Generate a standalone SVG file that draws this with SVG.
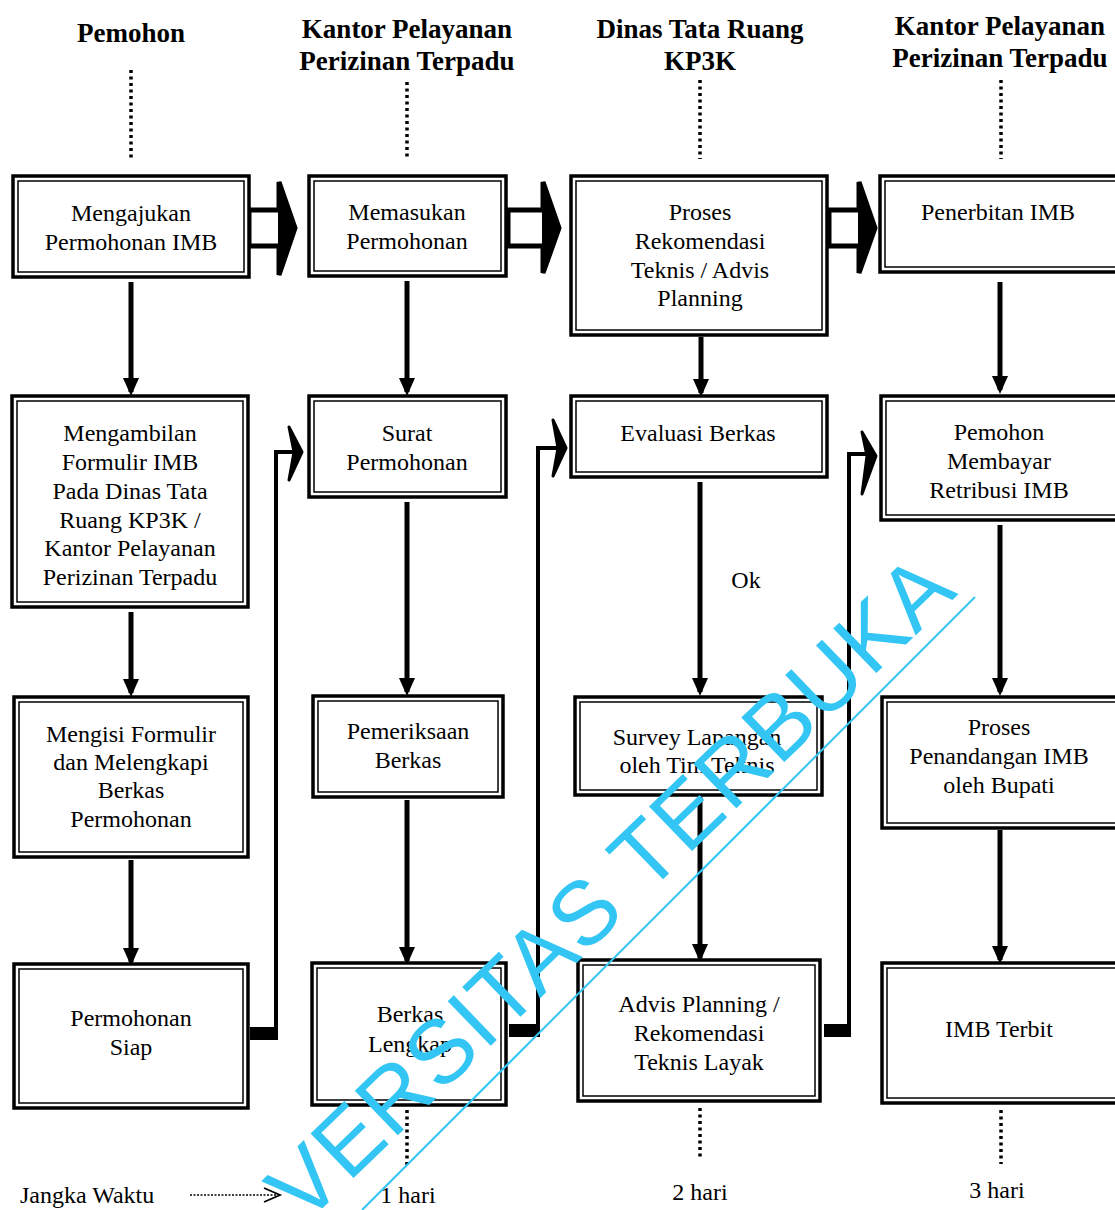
<svg xmlns="http://www.w3.org/2000/svg" width="1115" height="1210" viewBox="0 0 1115 1210">
<style>
.bg{fill:#fff}
.ob{fill:#fff;stroke:#000;stroke-width:3.5}
.ib{fill:none;stroke:#000;stroke-width:1.5}
.t{font-family:"Liberation Serif","Times New Roman",serif;font-size:24px;fill:#000;text-anchor:middle}
.h{font-family:"Liberation Serif","Times New Roman",serif;font-size:27px;font-weight:bold;fill:#000;text-anchor:middle}
.dot{stroke:#000;stroke-width:3.5;stroke-dasharray:3 3.5;fill:none}
.ln{stroke:#000;stroke-width:5;fill:none}
.blk{fill:#fff;stroke:#000;stroke-width:5;stroke-linejoin:miter}
.hd{fill:#000;stroke:#000;stroke-width:2;stroke-linejoin:miter}
.wm{font-family:"Liberation Sans",Arial,sans-serif;font-size:90px;fill:#33c6f4}
</style>
<defs>
<marker id="ah" markerUnits="userSpaceOnUse" markerWidth="18" markerHeight="18" viewBox="0 0 18 18" refX="14" refY="9" orient="auto">
<path d="M0,1 L18,9 L0,17 Z" fill="#000"/>
</marker>
</defs>
<rect class="bg" x="0" y="0" width="1115" height="1210"/>

<g id="headers">
<text class="h" x="131" y="42">Pemohon</text>
<text class="h" x="407" y="38">Kantor Pelayanan</text>
<text class="h" x="407" y="70">Perizinan Terpadu</text>
<text class="h" x="700" y="38">Dinas Tata Ruang</text>
<text class="h" x="700" y="70">KP3K</text>
<text class="h" x="1000" y="35">Kantor Pelayanan</text>
<text class="h" x="1000" y="67">Perizinan Terpadu</text>
</g>

<g id="connectors">
<line class="dot" x1="131" y1="70" x2="131" y2="159"/>
<line class="dot" x1="407" y1="82" x2="407" y2="159"/>
<line class="dot" x1="700" y1="80" x2="700" y2="159"/>
<line class="dot" x1="1001" y1="80" x2="1001" y2="159"/>
<line class="dot" x1="407" y1="1110" x2="407" y2="1166"/>
<line class="dot" x1="700" y1="1108" x2="700" y2="1160"/>
<line class="dot" x1="1001" y1="1110" x2="1001" y2="1164"/>
<path class="blk" d="M249,210 L279,210 L279,182 L295,228 L279,275 L279,246 L249,246 Z"/>
<path class="hd" d="M279,182 L295,228 L279,275 Z"/>
<path class="blk" d="M508,210 L543,210 L543,182 L559,228 L543,273 L543,246 L508,246 Z"/>
<path class="hd" d="M543,182 L559,228 L543,273 Z"/>
<path class="blk" d="M829,210 L859,210 L859,182 L875,228 L859,273 L859,246 L829,246 Z"/>
<path class="hd" d="M859,182 L875,228 L859,273 Z"/>
<line class="ln" x1="131" y1="282" x2="131" y2="392" marker-end="url(#ah)"/>
<line class="ln" x1="131" y1="612" x2="131" y2="693" marker-end="url(#ah)"/>
<line class="ln" x1="131" y1="860" x2="131" y2="962" marker-end="url(#ah)"/>
<line class="ln" x1="407" y1="281" x2="407" y2="392" marker-end="url(#ah)"/>
<line class="ln" x1="407" y1="502" x2="407" y2="692" marker-end="url(#ah)"/>
<line class="ln" x1="407" y1="800" x2="407" y2="961" marker-end="url(#ah)"/>
<line class="ln" x1="701" y1="337" x2="701" y2="393" marker-end="url(#ah)"/>
<line class="ln" x1="700" y1="482" x2="700" y2="692" marker-end="url(#ah)"/>
<line class="ln" x1="700" y1="797" x2="700" y2="958" marker-end="url(#ah)"/>
<line class="ln" x1="1000" y1="282" x2="1000" y2="390" marker-end="url(#ah)"/>
<line class="ln" x1="1000" y1="525" x2="1000" y2="692" marker-end="url(#ah)"/>
<line class="ln" x1="1000" y1="830" x2="1000" y2="960" marker-end="url(#ah)"/>
<rect x="250" y="1027" width="28" height="13" fill="#000"/>
<path class="ln" style="stroke-width:4" d="M276,1040 L276,452 L293,452"/>
<path d="M289,427 L302,452 L289,480 L294,452 Z" fill="#000" stroke="#000" stroke-width="3" stroke-linejoin="round"/>
<rect x="509" y="1024" width="31" height="13" fill="#000"/>
<path class="ln" style="stroke-width:4" d="M538,1037 L538,448 L557,448"/>
<path d="M553,420 L566,448 L553,476 L558,448 Z" fill="#000" stroke="#000" stroke-width="3" stroke-linejoin="round"/>
<rect x="824" y="1024" width="27" height="13" fill="#000"/>
<path class="ln" style="stroke-width:4" d="M849,1037 L849,454 L866,454"/>
<path d="M862,432 L876,456 L862,494 L867,456 Z" fill="#000" stroke="#000" stroke-width="3" stroke-linejoin="round"/>
<line x1="190" y1="1195" x2="276" y2="1195" stroke="#000" stroke-width="1.6" stroke-dasharray="2 1.5"/>
<path d="M264,1188 L280,1195 L264,1202" fill="none" stroke="#000" stroke-width="1.8"/>
</g>

<g id="n-a1"><rect class="ob" x="13" y="176" width="236" height="101"/><rect class="ib" x="18" y="181" width="226" height="91"/>
<text class="t" x="131" y="221">Mengajukan</text><text class="t" x="131" y="250">Permohonan IMB</text></g>
<g id="n-b1"><rect class="ob" x="309" y="176" width="197" height="100"/><rect class="ib" x="314" y="181" width="187" height="90"/>
<text class="t" x="407" y="220">Memasukan</text><text class="t" x="407" y="249">Permohonan</text></g>
<g id="n-c1"><rect class="ob" x="571" y="176" width="256" height="159"/><rect class="ib" x="576" y="181" width="246" height="149"/>
<text class="t" x="700" y="220">Proses</text><text class="t" x="700" y="249">Rekomendasi</text><text class="t" x="700" y="278">Teknis / Advis</text><text class="t" x="700" y="306">Planning</text></g>
<g id="n-d1"><rect class="ob" x="880" y="176" width="240" height="96"/><rect class="ib" x="885" y="181" width="240" height="86"/>
<text class="t" x="998" y="220">Penerbitan IMB</text></g>

<g id="n-a2"><rect class="ob" x="12" y="396" width="236" height="211"/><rect class="ib" x="17" y="401" width="226" height="201"/>
<text class="t" x="130" y="441">Mengambilan</text><text class="t" x="130" y="470">Formulir IMB</text><text class="t" x="130" y="499">Pada Dinas Tata</text><text class="t" x="130" y="528">Ruang KP3K /</text><text class="t" x="130" y="556">Kantor Pelayanan</text><text class="t" x="130" y="585">Perizinan Terpadu</text></g>
<g id="n-b2"><rect class="ob" x="309" y="396" width="197" height="101"/><rect class="ib" x="314" y="401" width="187" height="91"/>
<text class="t" x="407" y="441">Surat</text><text class="t" x="407" y="470">Permohonan</text></g>
<g id="n-c2"><rect class="ob" x="571" y="396" width="256" height="81"/><rect class="ib" x="576" y="401" width="246" height="71"/>
<text class="t" x="698" y="441">Evaluasi Berkas</text></g>
<g id="n-d2"><rect class="ob" x="881" y="396" width="240" height="124"/><rect class="ib" x="886" y="401" width="240" height="114"/>
<text class="t" x="999" y="440">Pemohon</text><text class="t" x="999" y="469">Membayar</text><text class="t" x="999" y="498">Retribusi IMB</text></g>

<g id="n-a3"><rect class="ob" x="14" y="697" width="234" height="160"/><rect class="ib" x="19" y="702" width="224" height="150"/>
<text class="t" x="131" y="742">Mengisi Formulir</text><text class="t" x="131" y="770">dan Melengkapi</text><text class="t" x="131" y="798">Berkas</text><text class="t" x="131" y="827">Permohonan</text></g>
<g id="n-b3"><rect class="ob" x="313" y="696" width="190" height="101"/><rect class="ib" x="318" y="701" width="180" height="91"/>
<text class="t" x="408" y="739">Pemeriksaan</text><text class="t" x="408" y="768">Berkas</text></g>
<g id="n-c3"><rect class="ob" x="575" y="697" width="247" height="98"/><rect class="ib" x="580" y="702" width="237" height="88"/>
<text class="t" x="697" y="745">Survey Lapangan</text><text class="t" x="697" y="773">oleh Tim Teknis</text></g>
<g id="n-d3"><rect class="ob" x="882" y="697" width="240" height="131"/><rect class="ib" x="887" y="702" width="240" height="121"/>
<text class="t" x="999" y="735">Proses</text><text class="t" x="999" y="764">Penandangan IMB</text><text class="t" x="999" y="793">oleh Bupati</text></g>

<g id="n-a4"><rect class="ob" x="14" y="964" width="234" height="144"/><rect class="ib" x="19" y="969" width="224" height="134"/>
<text class="t" x="131" y="1026">Permohonan</text><text class="t" x="131" y="1055">Siap</text></g>
<g id="n-b4"><rect class="ob" x="312" y="963" width="194" height="142"/><rect class="ib" x="317" y="968" width="184" height="132"/>
<text class="t" x="410" y="1022">Berkas</text><text class="t" x="410" y="1052">Lengkap</text></g>
<g id="n-c4"><rect class="ob" x="578" y="960" width="242" height="141"/><rect class="ib" x="583" y="965" width="232" height="131"/>
<text class="t" x="699" y="1012">Advis Planning /</text><text class="t" x="699" y="1041">Rekomendasi</text><text class="t" x="699" y="1070">Teknis Layak</text></g>
<g id="n-d4"><rect class="ob" x="882" y="963" width="240" height="140"/><rect class="ib" x="887" y="968" width="240" height="130"/>
<text class="t" x="999" y="1037">IMB Terbit</text></g>

<g id="labels">
<text class="t" x="746" y="588">Ok</text>
<text class="t" x="20" y="1203" style="text-anchor:start">Jangka Waktu</text>
<text class="t" x="408" y="1203">1 hari</text>
<text class="t" x="700" y="1200">2 hari</text>
<text class="t" x="997" y="1198">3 hari</text>
</g>

<g id="watermark">
<line x1="975" y1="597" x2="362" y2="1210" stroke="#33c6f4" stroke-width="2"/>
<text class="wm" transform="translate(304,1226) rotate(-44)" textLength="910" lengthAdjust="spacing">VERSITAS TERBUKA</text>
</g>
</svg>
